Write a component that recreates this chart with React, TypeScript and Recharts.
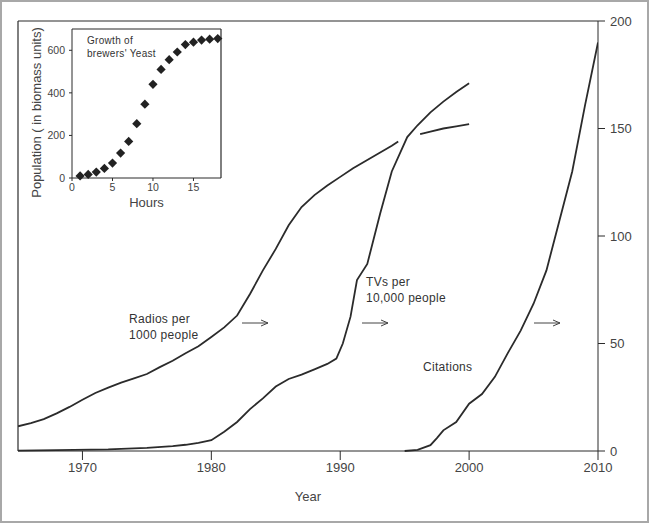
import React from "react";
import {
  LineChart,
  Line,
  XAxis,
  YAxis,
  ReferenceLine,
  ScatterChart,
  Scatter,
} from "recharts";

// main chart (right axis 0-200)
const radioYears = [1965, 1966, 1967, 1968, 1969, 1970, 1971, 1972, 1973, 1974, 1975, 1976, 1977, 1978, 1979, 1980, 1981, 1982, 1983, 1984, 1985, 1986, 1987, 1988, 1989, 1990, 1991, 1992, 1993, 1994, 1994.5, 1995.3, 1996.2, 1997, 1998, 1999, 2000];
const radioValues = [11.5, 13, 14.8, 17.5, 20.5, 23.8, 27, 29.5, 31.8, 33.8, 35.8, 39, 42, 45.5, 48.7, 53, 57.5, 63, 73, 84, 94, 105, 113.5, 119, 123.5, 127.5, 131.5, 135, 138.5, 142, 144, null, 147.4, 148.6, 150, 151, 152];

const tvYears = [1965, 1968, 1972, 1975, 1977, 1978, 1979, 1980, 1981, 1982, 1983, 1984, 1985, 1986, 1987, 1988, 1989, 1989.7, 1990.2, 1990.8, 1991.3, 1992.1, 1993.1, 1994, 1995.2, 1996, 1997, 1998, 1999, 2000];
const tvValues = [0.2, 0.4, 0.8, 1.5, 2.3, 2.9, 3.8, 5, 9, 13.5, 19.5, 24.5, 30, 33.5, 35.5, 38, 40.5, 43, 50, 62.5, 79.5, 87, 110.5, 130, 146, 151.5, 157.5, 162.5, 167, 171];

const citationYears = [1995, 1996, 1997, 1997.5, 1998, 1999, 2000, 2001, 2002, 2003, 2004, 2005, 2006, 2007, 2008, 2009, 2010];
const citationValues = [0, 0.5, 2.7, 6, 9.6, 13.5, 22, 26.5, 34.5, 45.5, 56, 68.5, 84, 107, 130, 161, 190];

const yearTicks = [1970, 1980, 1990, 2000, 2010];
const rightTicks = [0, 50, 100, 150, 200];

// inset: growth of brewers' yeast
const hours = [1, 2, 3, 4, 5, 6, 7, 8, 9, 10, 11, 12, 13, 14, 15, 16, 17, 18];
const biomass = [9.6, 17, 28, 45, 70, 117, 172, 255, 347, 440, 510, 556, 592, 627, 638, 648, 652, 655];
const hourTicks = [0, 5, 10, 15];
const biomassTicks = [0, 200, 400, 600];

const radios = radioYears.map((year, i) => ({ year, v: radioValues[i] }));
const tvs = tvYears.map((year, i) => ({ year, v: tvValues[i] }));
const citations = citationYears.map((year, i) => ({ year, v: citationValues[i] }));
const yeast = hours.map((h, i) => ({ h, p: biomass[i] }));

const ink = "#2b2b2b";
const txt = "#444";
const font = "Liberation Sans, Arial, sans-serif";

const Diamond = (props: any) => {
  const { cx, cy } = props;
  if (cx == null || cy == null) return null;
  const r = 4.6;
  return (
    <path
      d={`M${cx},${cy - r}L${cx + r},${cy}L${cx},${cy + r}L${cx - r},${cy}Z`}
      fill="#222"
    />
  );
};

const Arrow = ({ x, y }: { x: number; y: number }) => (
  <g stroke="#444" strokeWidth={1} fill="none">
    <line x1={x} y1={y} x2={x + 26} y2={y} />
    <polyline points={`${x + 19},${y - 3} ${x + 26},${y} ${x + 19},${y + 3}`} />
  </g>
);

const PopLabel = (props: any) => {
  const vb = props.viewBox || {};
  const x = (vb.x ?? 0) + 36;
  const y = (vb.y ?? 0) + vb.height / 2 + 9;
  return (
    <text
      x={x}
      y={y}
      transform={`rotate(-90 ${x} ${y})`}
      textAnchor="middle"
      dominantBaseline="central"
      fill={txt}
      fontSize={13}
      fontFamily={font}
    >
      Population ( in biomass units)
    </text>
  );
};

export default function App() {
  return (
    <div
      style={{
        position: "absolute",
        left: 0,
        top: 0,
        width: 649,
        height: 523,
        boxSizing: "border-box",
        border: "2px solid #a8a8a8",
        background: "#fff",
        fontFamily: font,
      }}
    >
      <div style={{ position: "absolute", left: -2, top: -2 }}>
        <LineChart
          width={649}
          height={523}
          margin={{ top: 21, right: 0, left: 18, bottom: 0 }}
        >
          <XAxis
            type="number"
            dataKey="year"
            domain={[1965, 2010]}
            ticks={yearTicks}
            allowDataOverflow
            height={72}
            tickSize={9}
            tickMargin={3}
            stroke={ink}
            tick={{ fill: txt, fontSize: 13, fontFamily: font }}
            label={{
              value: "Year",
              position: "insideBottom",
              offset: 22,
              fill: txt,
              fontSize: 13,
              fontFamily: font,
            }}
          />
          <YAxis
            orientation="right"
            domain={[0, 200]}
            ticks={rightTicks}
            width={51}
            tickSize={7}
            tickMargin={5}
            stroke={ink}
            tick={{ fill: txt, fontSize: 13, fontFamily: font, textAnchor: "start" }}
          />
          <ReferenceLine x={1965} stroke={ink} strokeWidth={1.2} />
          <ReferenceLine y={200} stroke={ink} strokeWidth={1.2} />
          <Line
            data={radios}
            dataKey="v"
            type="linear"
            stroke={ink}
            strokeWidth={1.8}
            dot={false}
            connectNulls={false}
            isAnimationActive={false}
          />
          <Line
            data={tvs}
            dataKey="v"
            type="linear"
            stroke={ink}
            strokeWidth={1.8}
            dot={false}
            isAnimationActive={false}
          />
          <Line
            data={citations}
            dataKey="v"
            type="linear"
            stroke={ink}
            strokeWidth={1.8}
            dot={false}
            isAnimationActive={false}
          />
        </LineChart>
      </div>

      {/* annotations */}
      <svg
        width={649}
        height={523}
        style={{ position: "absolute", left: -2, top: -2, pointerEvents: "none" }}
      >
        <g fill="#333" fontSize={12} fontFamily={font} letterSpacing={0.3}>
          <text x={129} y={323}>Radios per</text>
          <text x={129} y={339}>1000 people</text>
          <text x={366} y={286}>TVs per</text>
          <text x={366} y={302}>10,000 people</text>
          <text x={423} y={371}>Citations</text>
          <text x={87} y={44} fontSize={10}>Growth of</text>
          <text x={87} y={57} fontSize={10}>brewers' Yeast</text>
        </g>
        <Arrow x={242} y={323} />
        <Arrow x={362} y={323} />
        <Arrow x={534} y={323} />
      </svg>

      {/* inset */}
      <div style={{ position: "absolute", left: -2, top: -2 }}>
        <ScatterChart
          width={260}
          height={215}
          margin={{ top: 29, right: 39, left: 0, bottom: 0 }}
        >
          <XAxis
            type="number"
            dataKey="h"
            domain={[0, 18.4]}
            ticks={hourTicks}
            height={37}
            tickSize={3}
            tickMargin={3}
            stroke={ink}
            tick={{ fill: txt, fontSize: 10.5, fontFamily: font }}
            label={{
              value: "Hours",
              position: "insideBottom",
              offset: 8,
              fill: txt,
              fontSize: 13,
              fontFamily: font,
            }}
          />
          <YAxis
            type="number"
            dataKey="p"
            domain={[0, 700]}
            ticks={biomassTicks}
            width={72}
            tickSize={3}
            tickMargin={4}
            stroke={ink}
            tick={{ fill: txt, fontSize: 10.5, fontFamily: font }}
            label={<PopLabel />}
          />
          <ReferenceLine x={18.4} stroke={ink} strokeWidth={1.2} />
          <ReferenceLine y={700} stroke={ink} strokeWidth={1.2} />
          <Scatter data={yeast} shape={<Diamond />} isAnimationActive={false} />
        </ScatterChart>
      </div>
    </div>
  );
}
